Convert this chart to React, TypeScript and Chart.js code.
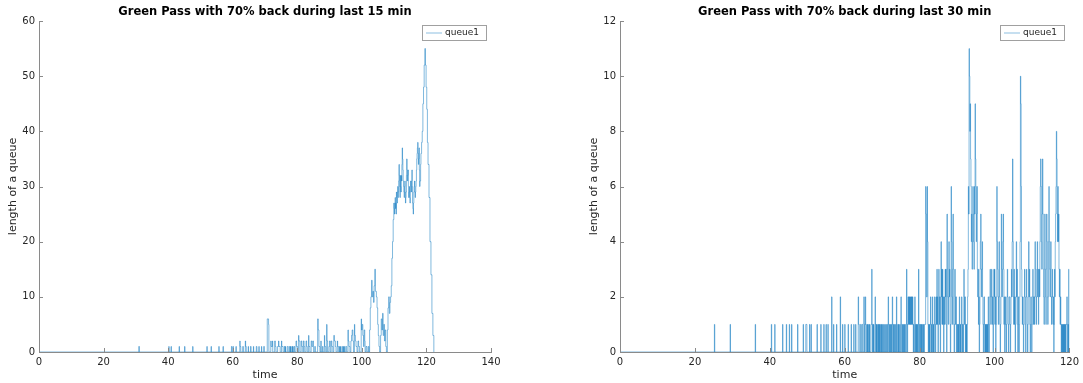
import React, { useEffect, useRef } from "react";
import { Chart, registerables } from "chart.js";
Chart.register(...registerables);

const FONT = "'DejaVu Sans', sans-serif";
const LINE_COLOR = "#0072BD";

const leftTitle = "Green Pass with 70% back during last 15 min";
const rightTitle = "Green Pass with 70% back during last 30 min";
const seriesName = "queue1";
const xLabel = "time";
const yLabel = "length of a queue";

const leftXTicks = { min: 0, max: 140, step: 20 };
const leftYTicks = { min: 0, max: 60, step: 10 };
const rightXTicks = { min: 0, max: 120, step: 20 };
const rightYTicks = { min: 0, max: 12, step: 2 };

// [time, queue length] events (value holds until next event)
const queue15: [number, number][] = [
  [0, 0],
  [30.9, 1], [31.1, 0],
  [40.2, 1], [40.3, 0],
  [40.9, 1], [41.0, 0],
  [43.4, 1], [43.5, 0],
  [45.1, 1], [45.2, 0],
  [47.6, 1], [47.7, 0],
  [52.0, 1], [52.1, 0],
  [53.3, 1], [53.4, 0],
  [55.7, 1], [55.8, 0],
  [57.0, 1], [57.1, 0],
  [59.6, 1], [59.8, 0],
  [60.1, 1], [60.2, 0],
  [61.0, 1], [61.1, 0],
  [62.2, 2], [62.3, 1], [62.5, 0],
  [63.1, 1], [63.3, 0],
  [63.9, 2], [64.0, 1], [64.2, 0],
  [64.8, 1], [64.9, 0],
  [65.5, 1], [65.7, 0],
  [66.4, 1], [66.5, 0],
  [67.3, 1], [67.5, 0],
  [68.1, 1], [68.2, 0],
  [68.9, 1], [69.0, 0],
  [69.6, 1], [69.8, 0],
  [70.7, 6], [71.1, 5], [71.2, 0],
  [71.8, 2], [71.9, 1], [72.3, 2], [72.4, 0],
  [73.0, 2], [73.2, 1], [73.4, 0],
  [73.9, 1], [74.2, 2], [74.3, 1], [74.7, 0],
  [75.1, 2], [75.2, 1], [75.6, 0],
  [76.0, 1], [76.2, 0], [76.3, 1], [76.4, 0],
  [76.9, 1], [77.2, 0],
  [77.6, 1], [77.8, 0], [77.9, 1], [78.0, 0],
  [78.3, 1], [78.5, 0], [78.6, 1], [78.7, 0],
  [79.0, 1], [79.2, 0],
  [79.6, 2], [79.8, 1], [80.1, 0],
  [80.4, 3], [80.5, 2], [80.8, 0],
  [81.2, 2], [81.4, 1], [81.7, 0],
  [81.9, 2], [82.1, 1], [82.3, 0],
  [82.7, 2], [82.9, 1], [83.1, 0],
  [83.5, 3], [83.6, 1], [83.9, 0],
  [84.3, 2], [84.5, 1], [84.8, 2], [85.0, 0],
  [85.4, 1], [85.6, 0],
  [86.3, 6], [86.5, 4], [86.7, 1], [87.0, 0],
  [87.3, 2], [87.4, 0],
  [87.8, 1], [88.0, 0],
  [88.4, 3], [88.5, 1], [88.8, 0],
  [89.1, 5], [89.2, 2], [89.4, 0],
  [89.8, 1], [90.0, 2], [90.2, 0],
  [90.5, 2], [90.7, 1], [91.0, 0],
  [91.3, 3], [91.5, 2], [91.8, 1], [92.0, 0],
  [92.4, 2], [92.5, 1], [92.8, 0],
  [93.1, 1], [93.2, 0], [93.3, 1], [93.4, 0],
  [93.8, 1], [94.0, 0],
  [94.3, 1], [94.4, 0], [94.5, 1], [94.6, 0],
  [95.0, 1], [95.3, 0],
  [95.7, 4], [95.8, 2], [96.0, 1], [96.3, 0],
  [96.6, 2], [96.8, 3], [97.0, 4], [97.2, 2], [97.4, 0],
  [97.7, 5], [97.8, 3], [98.0, 2], [98.2, 1], [98.5, 0],
  [98.8, 2], [99.0, 1], [99.3, 0],
  [99.8, 6], [99.9, 4], [100.1, 5], [100.3, 3], [100.5, 1], [100.7, 4], [100.9, 2], [101.0, 0],
  [101.3, 1], [101.6, 0],
  [102.0, 1], [102.2, 0],
  [102.4, 4], [102.6, 8], [102.8, 10], [103.0, 13], [103.2, 10], [103.4, 11], [103.6, 9], [103.8, 12],
  [104.0, 15], [104.2, 11], [104.5, 10], [104.7, 8], [104.9, 5], [105.1, 3], [105.3, 1], [105.5, 0],
  [105.8, 3], [106.0, 6], [106.2, 4], [106.4, 7], [106.6, 3], [106.8, 5], [107.0, 2], [107.2, 4], [107.4, 1], [107.6, 0],
  [107.9, 4], [108.1, 8], [108.3, 10], [108.5, 7], [108.7, 9], [108.9, 10], [109.1, 12], [109.3, 17],
  [109.5, 20], [109.7, 24], [109.9, 27], [110.0, 26], [110.1, 25], [110.2, 27], [110.3, 28], [110.4, 26],
  [110.5, 27], [110.6, 25], [110.7, 29], [110.8, 28], [110.9, 27], [111.0, 29], [111.1, 30], [111.2, 28],
  [111.3, 29], [111.4, 31], [111.5, 34], [111.6, 32], [111.7, 30], [111.8, 28], [111.9, 32], [112.0, 30],
  [112.1, 29], [112.2, 32], [112.3, 31], [112.4, 34], [112.5, 37], [112.6, 35], [112.7, 33], [112.8, 31],
  [112.9, 30], [113.0, 29], [113.1, 28], [113.2, 30], [113.3, 31], [113.4, 29], [113.5, 27], [113.6, 28],
  [113.7, 29], [113.8, 32], [113.9, 35], [114.0, 33], [114.1, 31], [114.2, 32], [114.3, 33], [114.4, 30],
  [114.5, 28], [114.6, 29], [114.7, 30], [114.8, 28], [114.9, 27], [115.0, 29], [115.1, 31], [115.2, 30],
  [115.3, 29], [115.4, 31], [115.5, 33], [115.6, 30], [115.7, 27], [115.8, 26], [115.9, 25], [116.0, 27],
  [116.1, 29], [116.2, 30], [116.3, 31], [116.4, 29], [116.5, 28], [116.6, 29], [116.7, 30], [116.8, 31],
  [116.9, 33], [117.0, 35], [117.1, 36], [117.2, 37], [117.3, 38], [117.4, 36], [117.5, 34], [117.6, 35],
  [117.7, 37], [117.8, 33], [117.9, 30], [118.0, 31], [118.2, 34], [118.3, 36], [118.5, 38], [118.7, 40],
  [118.9, 45], [119.1, 48], [119.3, 52], [119.5, 55], [119.7, 52], [119.9, 48], [120.1, 44], [120.3, 38],
  [120.5, 34], [120.8, 28], [121.1, 20], [121.4, 14], [121.7, 7], [122.0, 3], [122.3, 0],
];

const queue30: [number, number][] = [
  [0, 0],
  [25.2, 1], [25.3, 0],
  [29.4, 1], [29.5, 0],
  [36.1, 1], [36.2, 0],
  [40.4, 1], [40.5, 0],
  [41.3, 1], [41.4, 0],
  [43.4, 1], [43.5, 0],
  [44.4, 1], [44.5, 0],
  [45.2, 1], [45.3, 0],
  [45.8, 1], [45.9, 0],
  [47.4, 1], [47.5, 0],
  [48.9, 1], [49.0, 0],
  [49.6, 1], [49.9, 0],
  [50.6, 1], [50.7, 0],
  [51.0, 1], [51.1, 0],
  [52.6, 1], [52.7, 0],
  [53.6, 1], [53.7, 0],
  [54.4, 1], [54.5, 0],
  [55.0, 1], [55.1, 0],
  [55.5, 1], [55.6, 0],
  [56.5, 2], [56.6, 0],
  [57.0, 1], [57.1, 0],
  [57.8, 1], [57.9, 0],
  [58.8, 2], [58.9, 0],
  [59.4, 1], [59.5, 0],
  [60.0, 1], [60.1, 0],
  [60.9, 1], [61.0, 0],
  [61.7, 1], [61.8, 0],
  [62.4, 1], [62.5, 0],
  [62.9, 1], [63.0, 0],
  [63.6, 2], [63.7, 1], [63.9, 0],
  [64.2, 1], [64.4, 0],
  [64.6, 1], [64.8, 0],
  [65.1, 2], [65.2, 1], [65.3, 0], [65.4, 1], [65.5, 2], [65.6, 1], [65.7, 0], [65.9, 1], [66.0, 0],
  [66.1, 1], [66.2, 0], [66.4, 1], [66.5, 0], [66.6, 1], [66.7, 0],
  [67.0, 1], [67.2, 3], [67.3, 1], [67.4, 0], [67.5, 1], [67.6, 0], [67.7, 1], [67.8, 0],
  [68.1, 2], [68.2, 1], [68.3, 0], [68.4, 1], [68.5, 0], [68.6, 1], [68.7, 0],
  [68.9, 1], [69.0, 0], [69.1, 1], [69.2, 0], [69.3, 1], [69.4, 0], [69.6, 1], [69.7, 0], [69.8, 1], [69.9, 0],
  [70.1, 1], [70.2, 0], [70.4, 1], [70.5, 0], [70.7, 1], [70.8, 0], [71.0, 1], [71.1, 0], [71.3, 1], [71.4, 0],
  [71.6, 2], [71.7, 1], [71.8, 0], [71.9, 1], [72.0, 0], [72.2, 1], [72.3, 0], [72.4, 1], [72.5, 0],
  [72.7, 2], [72.8, 1], [72.9, 0], [73.0, 1], [73.1, 0], [73.3, 1], [73.4, 0], [73.6, 1], [73.7, 0],
  [73.8, 2], [73.9, 1], [74.0, 0], [74.2, 1], [74.3, 0], [74.4, 1], [74.5, 0], [74.7, 1], [74.8, 0],
  [75.0, 2], [75.1, 1], [75.2, 0], [75.4, 1], [75.5, 0], [75.6, 1], [75.7, 0], [75.9, 1], [76.0, 0], [76.1, 1], [76.2, 0],
  [76.5, 3], [76.6, 1], [76.7, 0], [76.8, 1], [76.9, 2], [77.0, 1], [77.1, 2], [77.2, 1], [77.3, 2], [77.4, 1],
  [77.5, 2], [77.6, 1], [77.7, 2], [77.8, 1], [77.9, 2], [78.0, 1], [78.1, 2], [78.2, 1], [78.3, 0], [78.4, 1], [78.5, 0],
  [78.7, 2], [78.8, 1], [78.9, 0], [79.0, 1], [79.1, 0], [79.2, 1], [79.3, 0], [79.4, 1], [79.5, 0],
  [79.7, 3], [79.8, 1], [79.9, 0], [80.0, 1],
  [80.1, 1], [80.2, 0], [80.3, 1], [80.4, 0], [80.5, 1], [80.6, 0], [80.8, 1], [80.9, 0], [81.0, 1], [81.1, 0],
  [81.3, 1], [81.6, 6], [81.7, 5], [81.8, 2], [82.0, 6], [82.1, 4], [82.2, 1], [82.3, 0], [82.4, 1], [82.5, 0],
  [82.6, 1], [82.7, 0], [82.8, 1], [82.9, 2], [83.0, 1], [83.1, 0], [83.2, 1], [83.3, 0],
  [83.4, 2], [83.5, 1], [83.6, 0], [83.7, 1], [83.8, 0], [83.9, 1], [84.0, 2], [84.1, 1], [84.2, 0], [84.3, 1], [84.4, 2], [84.5, 1],
  [84.6, 3], [84.7, 1], [84.8, 2], [84.9, 0], [85.0, 1],
  [85.1, 3], [85.2, 2], [85.3, 1], [85.4, 2], [85.5, 0], [85.6, 1],
  [85.7, 4], [85.8, 2], [85.9, 3], [86.0, 1], [86.1, 3], [86.2, 1], [86.3, 2], [86.4, 0], [86.5, 1], [86.6, 2], [86.7, 1],
  [86.8, 3], [86.9, 2], [87.0, 3], [87.1, 1], [87.2, 0],
  [87.3, 5], [87.4, 3], [87.5, 2], [87.6, 1], [87.7, 2], [87.8, 4], [87.9, 2], [88.0, 3], [88.1, 1], [88.2, 0], [88.3, 1],
  [88.4, 6], [88.5, 4], [88.6, 2], [88.7, 1], [88.8, 3], [88.9, 5], [89.0, 3], [89.1, 1], [89.2, 0], [89.3, 1],
  [89.4, 3], [89.5, 2], [89.6, 1], [89.7, 2], [89.8, 0], [89.9, 1],
  [90.0, 1], [90.1, 0], [90.2, 1], [90.3, 0], [90.4, 1], [90.5, 0],
  [90.6, 2], [90.7, 1], [90.8, 0], [90.9, 1], [91.0, 0], [91.1, 1],
  [91.2, 2], [91.3, 1], [91.4, 0], [91.5, 1], [91.6, 0], [91.7, 1],
  [91.8, 3], [91.9, 2], [92.0, 1], [92.1, 2], [92.2, 0], [92.3, 1], [92.4, 0], [92.5, 1], [92.6, 0], [92.7, 1], [92.8, 2],
  [92.9, 3], [93.0, 6], [93.1, 5], [93.2, 11], [93.3, 10], [93.4, 8], [93.5, 9], [93.6, 7], [93.7, 6], [93.8, 4], [93.9, 5],
  [94.0, 3], [94.1, 4], [94.2, 6], [94.3, 5], [94.4, 4], [94.5, 3], [94.6, 6], [94.7, 5], [94.8, 9], [94.9, 7],
  [95.0, 6], [95.1, 4], [95.2, 5], [95.3, 6],
  [95.4, 3], [95.5, 2], [95.6, 3], [95.7, 1], [95.8, 2], [95.9, 0], [96.0, 1],
  [96.1, 3], [96.2, 4], [96.3, 5], [96.4, 3], [96.5, 2], [96.6, 3], [96.7, 4], [96.8, 2], [96.9, 1], [97.0, 0],
  [97.1, 1], [97.2, 2], [97.3, 1], [97.4, 0],
  [97.5, 1], [97.6, 0], [97.7, 1], [97.8, 0], [97.9, 1], [98.0, 0], [98.1, 1], [98.2, 0],
  [98.3, 2], [98.4, 1], [98.5, 0], [98.6, 1], [98.7, 2],
  [98.8, 3], [98.9, 2], [99.0, 1], [99.1, 2], [99.2, 3], [99.3, 2], [99.4, 1], [99.5, 2], [99.6, 0], [99.7, 1],
  [99.8, 3], [99.9, 2], [100.0, 3], [100.1, 1], [100.2, 2], [100.3, 0], [100.4, 1], [100.5, 2],
  [100.6, 6], [100.7, 4], [100.8, 3], [100.9, 2], [101.0, 1], [101.1, 2], [101.2, 4], [101.3, 2], [101.4, 1],
  [101.5, 0], [101.6, 1], [101.7, 2],
  [101.8, 5], [101.9, 3], [102.0, 2], [102.1, 3], [102.2, 4], [102.3, 5], [102.4, 3], [102.5, 1], [102.6, 2],
  [102.7, 0], [102.8, 1],
  [102.9, 2], [103.0, 1], [103.1, 0], [103.2, 1], [103.3, 2],
  [103.4, 3], [103.5, 2], [103.6, 1], [103.7, 0], [103.8, 1], [103.9, 2],
  [104.0, 2], [104.1, 1], [104.2, 0], [104.3, 1], [104.4, 2], [104.5, 3], [104.6, 2], [104.7, 4],
  [104.8, 7], [104.9, 4], [105.0, 2], [105.1, 1], [105.2, 3], [105.3, 1], [105.4, 2], [105.5, 0], [105.6, 1], [105.7, 2],
  [105.8, 4], [105.9, 2], [106.0, 3], [106.1, 1], [106.2, 0], [106.3, 2], [106.4, 1], [106.5, 0], [106.6, 1],
  [106.7, 2], [106.8, 4],
  [106.9, 10], [107.0, 9], [107.1, 6], [107.2, 3], [107.3, 2], [107.4, 1], [107.5, 2], [107.6, 1], [107.7, 0],
  [107.8, 1], [107.9, 2],
  [108.0, 3], [108.1, 2], [108.2, 1], [108.3, 0], [108.4, 2], [108.5, 3], [108.6, 2], [108.7, 1], [108.8, 0],
  [108.9, 1], [109.0, 2],
  [109.1, 4], [109.2, 2], [109.3, 3], [109.4, 1], [109.5, 0], [109.6, 1], [109.7, 2], [109.8, 1], [109.9, 0],
  [110.0, 1], [110.1, 2],
  [110.2, 3], [110.3, 2], [110.4, 1], [110.5, 2], [110.6, 1], [110.7, 2], [110.8, 4], [110.9, 3], [111.0, 2],
  [111.1, 1], [111.2, 2], [111.3, 3],
  [111.4, 4], [111.5, 2], [111.6, 3], [111.7, 1], [111.8, 2], [111.9, 3], [112.0, 2], [112.1, 4], [112.2, 6],
  [112.3, 7], [112.4, 6], [112.5, 4], [112.6, 3], [112.7, 5],
  [112.8, 7], [112.9, 5], [113.0, 3], [113.1, 2], [113.2, 1], [113.3, 3],
  [113.4, 5], [113.5, 3], [113.6, 2], [113.7, 1], [113.8, 3], [113.9, 5], [114.0, 4], [114.1, 2], [114.2, 1],
  [114.3, 2], [114.4, 4],
  [114.5, 6], [114.6, 4], [114.7, 3], [114.8, 2], [114.9, 3], [115.0, 4], [115.1, 2], [115.2, 1], [115.3, 2],
  [115.4, 3], [115.5, 2], [115.6, 1], [115.7, 2], [115.8, 0], [115.9, 1],
  [116.0, 3], [116.1, 2], [116.2, 4], [116.3, 5], [116.4, 6], [116.5, 8], [116.6, 7], [116.7, 5], [116.8, 4],
  [116.9, 6], [117.0, 4], [117.1, 5], [117.2, 3], [117.3, 2], [117.4, 3], [117.5, 1], [117.6, 2],
  [117.7, 1], [117.8, 0], [117.9, 1], [118.0, 0], [118.1, 1], [118.2, 0], [118.3, 1], [118.4, 0], [118.5, 1],
  [118.6, 0], [118.7, 1], [118.8, 0], [118.9, 1], [119.0, 0], [119.1, 1],
  [119.3, 2], [119.4, 1], [119.5, 0], [119.6, 1], [119.7, 0],
  [119.8, 3], [119.9, 0],
];

const decorPlugin = {
  id: "decor",
  afterDraw(chart: any, _args: any, opts: any) {
    const ctx = chart.ctx as CanvasRenderingContext2D;
    const { left, right, bottom } = chart.chartArea;
    const xs = chart.scales.x;
    const ys = chart.scales.y;
    ctx.save();
    // inward ticks
    ctx.strokeStyle = "#8a8a8a";
    ctx.lineWidth = 1;
    ctx.beginPath();
    xs.ticks.forEach((t: any) => {
      const px = Math.round(xs.getPixelForValue(t.value)) + 0.5;
      ctx.moveTo(px, bottom);
      ctx.lineTo(px, bottom - 4);
    });
    ys.ticks.forEach((t: any) => {
      const py = Math.round(ys.getPixelForValue(t.value)) + 0.5;
      ctx.moveTo(left, py);
      ctx.lineTo(left + 4, py);
    });
    ctx.stroke();
    // title
    ctx.fillStyle = "#000";
    ctx.font = `bold 11.5px ${FONT}`;
    ctx.textAlign = "center";
    ctx.textBaseline = "middle";
    ctx.fillText(opts.title, (left + right) / 2, 12.5);
    // legend box
    const bw = 64;
    const bh = 15;
    const bx = Math.round(right - 5 - bw);
    const by = 25;
    ctx.fillStyle = "#fff";
    ctx.fillRect(bx, by, bw, bh);
    ctx.strokeStyle = "#a0a0a0";
    ctx.strokeRect(bx + 0.5, by + 0.5, bw, bh);
    ctx.strokeStyle = "rgba(0,114,189,0.45)";
    ctx.beginPath();
    ctx.moveTo(bx + 4, by + 8);
    ctx.lineTo(bx + 20, by + 8);
    ctx.stroke();
    ctx.fillStyle = "#262626";
    ctx.font = `9px ${FONT}`;
    ctx.textAlign = "left";
    ctx.fillText(opts.legend, bx + 23, by + 8);
    ctx.restore();
  },
};

type Props = {
  data: [number, number][];
  title: string;
  xr: { min: number; max: number; step: number };
  yr: { min: number; max: number; step: number };
  left: number;
  width: number;
  padLeft: number;
  padRight: number;
};

function QueueChart({ data, title, xr, yr, left, width, padLeft, padRight }: Props) {
  const ref = useRef<HTMLCanvasElement>(null);
  useEffect(() => {
    const chart = new Chart(ref.current as HTMLCanvasElement, {
      type: "line",
      data: {
        datasets: [
          {
            label: seriesName,
            data: data.map(([x, y]) => ({ x, y })),
            borderColor: LINE_COLOR,
            borderWidth: 0.5,
            pointRadius: 0,
            fill: false,
            stepped: true,
            tension: 0,
          },
        ],
      },
      options: {
        animation: false,
        responsive: false,
        devicePixelRatio: 1,
        events: [],
        layout: { padding: { left: padLeft, right: padRight, top: 21, bottom: 0 } },
        plugins: {
          legend: { display: false },
          title: { display: false },
          tooltip: { enabled: false },
          decor: { title, legend: seriesName },
        } as any,
        scales: {
          x: {
            type: "linear",
            min: xr.min,
            max: xr.max,
            grid: { display: false, drawTicks: false },
            border: { display: true, color: "#8a8a8a", width: 1 },
            ticks: {
              stepSize: xr.step,
              autoSkip: false,
              maxRotation: 0,
              padding: 4,
              color: "#262626",
              font: { family: FONT, size: 10 },
            },
            title: {
              display: true,
              text: xLabel,
              color: "#262626",
              font: { family: FONT, size: 11 },
              padding: { top: 0, bottom: 1 },
            },
            afterFit: (s: any) => {
              s.height = 31;
            },
          },
          y: {
            type: "linear",
            min: yr.min,
            max: yr.max,
            grid: { display: false, drawTicks: false },
            border: { display: true, color: "#8a8a8a", width: 1 },
            ticks: {
              stepSize: yr.step,
              autoSkip: false,
              padding: 4,
              color: "#262626",
              font: { family: FONT, size: 10 },
            },
            title: {
              display: true,
              text: yLabel,
              color: "#262626",
              font: { family: FONT, size: 11 },
              padding: { top: 7, bottom: 0 },
            },
            afterFit: (s: any) => {
              s.width = 39;
            },
          },
        },
      } as any,
      plugins: [decorPlugin],
    });
    return () => chart.destroy();
  }, []);
  return (
    <canvas
      ref={ref}
      width={width}
      height={383}
      style={{ position: "absolute", left, top: 0, width, height: 383 }}
    />
  );
}

export default function App() {
  return (
    <div
      style={{
        position: "fixed",
        left: 0,
        top: 0,
        width: 1083,
        height: 383,
        background: "#fff",
        overflow: "hidden",
      }}
    >
      <QueueChart
        data={queue15}
        title={leftTitle}
        xr={leftXTicks}
        yr={leftYTicks}
        left={0}
        width={541}
        padLeft={0}
        padRight={50}
      />
      <QueueChart
        data={queue30}
        title={rightTitle}
        xr={rightXTicks}
        yr={rightYTicks}
        left={541}
        width={542}
        padLeft={40}
        padRight={11}
      />
    </div>
  );
}
